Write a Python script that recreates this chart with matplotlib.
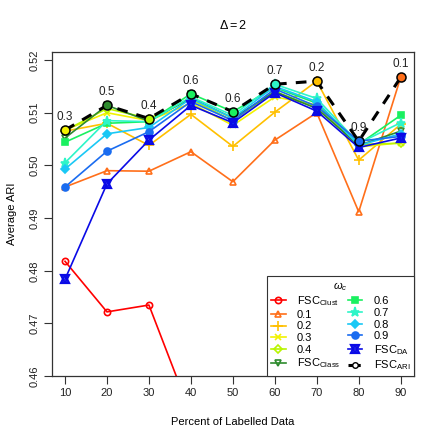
import numpy as np
import matplotlib
matplotlib.use('Agg')
import matplotlib.pyplot as plt
from matplotlib.legend_handler import HandlerTuple

plt.rcParams['font.family'] = ['Liberation Sans', 'DejaVu Sans']
plt.rcParams['mathtext.fontset'] = 'custom'
plt.rcParams['mathtext.rm'] = 'Liberation Sans'
plt.rcParams['mathtext.it'] = 'Liberation Sans:italic'

# Data
pct = [10, 20, 30, 40, 50, 60, 70, 80, 90]

fsc_clust = [0.4818, 0.4722, 0.4735, 0.4528, np.nan, np.nan, np.nan, np.nan, np.nan]  # rest below plotted range
w01 = [0.4959, 0.4990, 0.4989, 0.5026, 0.4969, 0.5048, 0.5100, 0.4912, 0.5167]
w02 = [0.5065, 0.5080, 0.5038, 0.5097, 0.5036, 0.5101, 0.5160, 0.5010, 0.5078]
w03 = [0.5067, 0.5100, 0.5085, 0.5118, 0.5076, 0.5130, 0.5115, 0.5035, 0.5043]
w04 = [0.5066, 0.5108, 0.5089, 0.5125, 0.5085, 0.5140, 0.5110, 0.5040, 0.5042]
fsc_class = [0.5052, 0.5114, 0.5084, 0.5128, 0.5090, 0.5140, 0.5108, 0.5038, 0.5065]
w06 = [0.5044, 0.5080, 0.5083, 0.5136, 0.5102, 0.5148, 0.5118, 0.5040, 0.5095]
w07 = [0.5005, 0.5085, 0.5083, 0.5130, 0.5095, 0.5154, 0.5127, 0.5042, 0.5081]
w08 = [0.4993, 0.5060, 0.5072, 0.5127, 0.5090, 0.5150, 0.5121, 0.5038, 0.5060]
w09 = [0.4959, 0.5027, 0.5064, 0.5121, 0.5085, 0.5145, 0.5112, 0.5046, 0.5055]
fsc_da = [0.4784, 0.4965, 0.5048, 0.5114, 0.5081, 0.5138, 0.5103, 0.5034, 0.5052]
fsc_ari = [0.5067, 0.5114, 0.5089, 0.5136, 0.5102, 0.5154, 0.5160, 0.5046, 0.5167]
ari_labels = ['0.3', '0.5', '0.4', '0.6', '0.6', '0.7', '0.2', '0.9', '0.1']

labels = ['FSC$_{\\mathrm{Clust}}$', '0.1', '0.2', '0.3', '0.4', 'FSC$_{\\mathrm{Class}}$',
          '0.6', '0.7', '0.8', '0.9']
series = [fsc_clust, w01, w02, w03, w04, fsc_class, w06, w07, w08, w09]
colors = ['#FF0000', '#FF6F1A', '#FFC000', '#F2F200', '#B8F500', '#2E8B2E',
          '#1AF060', '#2EF5C8', '#1AC8F5', '#1A6CF0']
da_color = '#0A0AE6'
markers = ['o', '^', '+', 'x', 'D', 'v', 's', '*', 'D', 'o']
filled = [False, False, True, True, False, False, True, True, True, True]
msizes = [4.5, 5, 6.5, 5, 4, 5, 4.5, 6.5, 4.5, 5]

# omega value -> colour, for the ARI fill
omega_col = {'0.1': colors[1], '0.2': colors[2], '0.3': colors[3], '0.4': colors[4],
             '0.5': colors[5], '0.6': colors[6], '0.7': colors[7], '0.8': colors[8],
             '0.9': colors[9]}

fig = plt.figure(figsize=(4.41, 4.41), dpi=100)
ax = fig.add_axes([0.117, 0.147, 0.822, 0.736])

handles = []
for y, lab, c, m, f, ms in zip(series, labels, colors, markers, filled, msizes):
    h, = ax.plot(pct, y, color=c, lw=1.2, marker=m, markersize=ms,
                 markerfacecolor=c if f else 'none', markeredgecolor=c,
                 markeredgewidth=1.2, label=lab)
    handles.append(h)

# FSC_DA: line with up+down triangle marker
h_da1, = ax.plot(pct, fsc_da, color=da_color, lw=1.2, marker='^', markersize=5.5,
                 markerfacecolor='none', markeredgecolor=da_color, markeredgewidth=1.6)
h_da2, = ax.plot(pct, fsc_da, color=da_color, lw=0, marker='v', markersize=5.5,
                 markerfacecolor='none', markeredgecolor=da_color, markeredgewidth=1.6)
handles.append((h_da1, h_da2))
labels = labels + ['FSC$_{\\mathrm{DA}}$']

ax.plot(pct, fsc_ari, color='black', lw=2.2, ls=(0, (3.5, 3)), zorder=5)
for x, y, lab in zip(pct, fsc_ari, ari_labels):
    ax.plot(x, y, marker='o', markersize=6.5, markerfacecolor=omega_col[lab],
            markeredgecolor='black', markeredgewidth=1.1, zorder=6)
    ax.annotate(lab, (x, y), xytext=(0, 5), textcoords='offset points',
                ha='center', va='bottom', fontsize=8.5, color='#222222', zorder=7)
h_ari, = ax.plot([], [], color='black', lw=2.2, ls=(0, (1.5, 1)), marker='o',
                 markersize=4, markerfacecolor='white', markeredgecolor='black')
handles.append(h_ari)
labels = labels + ['FSC$_{\\mathrm{ARI}}$']

ax.set_xlim(6.8, 93.2)
ax.set_ylim(0.46, 0.5216)
ax.set_xticks(pct)
ax.set_yticks([0.46, 0.47, 0.48, 0.49, 0.50, 0.51, 0.52])
ax.set_yticklabels(['0.46', '0.47', '0.48', '0.49', '0.50', '0.51', '0.52'],
                   rotation=90, va='center')
ax.tick_params(direction='out', length=5.5, width=0.8, labelsize=8, pad=3,
               colors='#333333', labelcolor='#222222')
for s in ax.spines.values():
    s.set_color('#333333')
    s.set_linewidth(0.9)

ax.set_title('$\\Delta = 2$', fontsize=9, pad=16)
ax.set_xlabel('Percent of Labelled Data', fontsize=8, labelpad=14)
ax.set_ylabel('Average ARI', fontsize=8, labelpad=9)

leg = ax.legend(handles=handles, labels=labels, ncol=2, loc='lower right',
                bbox_to_anchor=(1.0, 0.0), handler_map={tuple: HandlerTuple(ndivide=1, pad=0)},
                title='$\\omega_c$', title_fontsize=8, fontsize=8, frameon=True,
                fancybox=False, edgecolor='#333333', framealpha=1,
                borderaxespad=0.0, handlelength=1.3, handletextpad=1.0,
                columnspacing=0.7, labelspacing=0.15, borderpad=0.35)
leg.get_frame().set_linewidth(0.8)

fig.savefig('out.png', dpi=100)
